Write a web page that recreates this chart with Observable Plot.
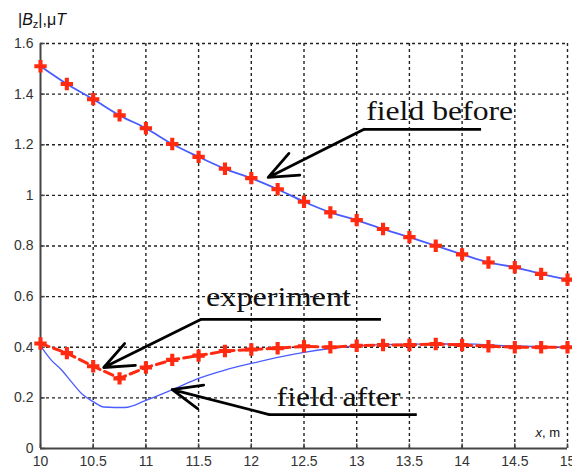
<!DOCTYPE html>
<html><head><meta charset="utf-8">
<script src="https://cdn.jsdelivr.net/npm/d3@7"></script>
<script src="https://cdn.jsdelivr.net/npm/@observablehq/plot@0.6"></script>
<style>body{margin:0;background:#fff;overflow:hidden}</style>
</head><body><div id="chart"></div>
<script>
const xPos = [10,10.25,10.5,10.75,11,11.25,11.5,11.75,12,12.25,12.5,12.75,13,13.25,13.5,13.75,14,14.25,14.5,14.75,15];
const fieldBefore = [1.51,1.44,1.38,1.316,1.265,1.203,1.152,1.105,1.068,1.024,0.975,0.933,0.902,0.867,0.835,0.801,0.767,0.735,0.716,0.69,0.667];
const experiment = [0.415,0.377,0.325,0.277,0.32,0.35,0.367,0.385,0.391,0.396,0.404,0.40,0.406,0.409,0.409,0.413,0.409,0.404,0.40,0.40,0.40];
const fieldAfterX = [10,10.1,10.2,10.3,10.4,10.5,10.6,10.8,11,11.25,11.5,11.75,12,12.25,12.5,12.75,13,13.5,14,14.5,15];
const fieldAfterY = [0.405,0.35,0.31,0.26,0.213,0.185,0.164,0.162,0.19,0.232,0.277,0.31,0.336,0.36,0.38,0.395,0.405,0.412,0.413,0.405,0.40];
const xTicks = [10,10.5,11,11.5,12,12.5,13,13.5,14,14.5,15];
const xTickLabels = ["10","10.5","11","11.5","12","12.5","13","13.5","14","14.5","15"];
const yTicks = [0,0.2,0.4,0.6,0.8,1,1.2,1.4,1.6];
const yTickLabels = ["0","0.2","0.4","0.6","0.8","1","1.2","1.4","1.6"];
const noteText = ["field before","experiment","field after"];
const noteX = [13.09,11.57,12.24];
const noteY = [1.296,0.561,0.167];
const underX1 = [13.07,11.52,12.17];
const underX2 = [14.18,13.23,13.57];
const underY = [1.261,0.51,0.134];
const arrowTipX = [12.16,10.60,11.25];
const arrowTipY = [1.071,0.32,0.233];
const noteWidthPx = [147,145,124];

const before = xPos.map((x,i)=>({x, y: fieldBefore[i]}));
const exper = xPos.map((x,i)=>({x, y: experiment[i]}));
const after = fieldAfterX.map((x,i)=>({x, y: fieldAfterY[i]}));
const notes = noteText.map((t,i)=>({t, x: noteX[i], y: noteY[i], x1: underX1[i], x2: underX2[i], yu: underY[i], tx: arrowTipX[i], ty: arrowTipY[i]}));
const red = "#ff2a10";
const blue = "#4a5cff";

const plot = Plot.plot({
  width: 572, height: 467,
  marginTop: 43, marginBottom: 19, marginLeft: 40, marginRight: 5,
  style: {fontFamily: "Liberation Sans, Arial, sans-serif", fontSize: "14px", color: "#333", background: "#fff"},
  x: {domain: [10, 15]},
  y: {domain: [0, 1.6]},
  marks: [
    Plot.ruleX(xTicks.slice(1), {stroke: "#222", strokeWidth: 1.4, strokeDasharray: "3,3"}),
    Plot.ruleY(yTicks.slice(1), {stroke: "#222", strokeWidth: 1.4, strokeDasharray: "3,3"}),
    Plot.ruleX(xTicks, {y1: 0, y2: 0.018, stroke: "#444", strokeWidth: 1.5}),
    Plot.ruleY(yTicks, {x1: 10, x2: 10.045, stroke: "#444", strokeWidth: 1.5}),
    Plot.ruleY([0], {stroke: "#444", strokeWidth: 2}),
    Plot.ruleX([10], {stroke: "#444", strokeWidth: 2}),
    Plot.axisX({ticks: xTicks, tickSize: 0, tickPadding: 8, tickFormat: (d,i)=>xTickLabels[i], fontSize: 14, fill: "#333"}),
    Plot.axisY({ticks: yTicks, tickSize: 0, tickPadding: 7, tickFormat: (d,i)=>yTickLabels[i], fontSize: 14, fill: "#333"}),
    Plot.line(before, {x: "x", y: "y", stroke: blue, strokeWidth: 1.8, curve: "monotone-x"}),
    Plot.line(after, {x: "x", y: "y", stroke: blue, strokeWidth: 1.3, curve: "monotone-x"}),
    Plot.line(exper, {x: "x", y: "y", stroke: red, strokeWidth: 3, strokeDasharray: "9,5"}),
    Plot.dot(before, {x: "x", y: "y", symbol: "cross", fill: red, r: 5.2}),
    Plot.dot(exper, {x: "x", y: "y", symbol: "cross", fill: red, r: 5.2}),
    Plot.link(notes, {x1: "x1", x2: "x2", y1: "yu", y2: "yu", stroke: "#000", strokeWidth: 2.8}),
    Plot.arrow(notes, {x1: "x1", y1: "yu", x2: "tx", y2: "ty", bend: 0, stroke: "#000", strokeWidth: 2.8, headLength: 17, headAngle: 45}),
    Plot.text(notes, {x: "x", y: "y", text: "t", textAnchor: "start", lineAnchor: "bottom", fontFamily: "Liberation Serif, Times New Roman, serif", fontSize: 28, fill: "#111"})
  ]
});
document.getElementById("chart").appendChild(plot);

const svg = d3.select(plot);
svg.selectAll('g[aria-label="text"] text').each(function(d, i) {
  d3.select(this).attr("textLength", noteWidthPx[i]).attr("lengthAdjust", "spacingAndGlyphs");
});
const yl = svg.append("text").attr("x", 42).attr("y", 25)
  .attr("font-family", "Liberation Sans, Arial, sans-serif").attr("font-size", 16).attr("fill", "#111");
yl.append("tspan").text("|");
yl.append("tspan").attr("font-style", "italic").text("B");
yl.append("tspan").attr("font-size", 11).attr("dy", 3).text("z");
yl.append("tspan").attr("dy", -3).text("|,μ");
yl.append("tspan").attr("font-style", "italic").text("T");

const xl = svg.append("text").attr("x", 560).attr("y", 437).attr("text-anchor", "end")
  .attr("font-family", "Liberation Sans, Arial, sans-serif").attr("font-size", 13).attr("fill", "#111");
xl.append("tspan").attr("font-style", "italic").text("x");
xl.append("tspan").text(", m");
</script>
</body></html>
